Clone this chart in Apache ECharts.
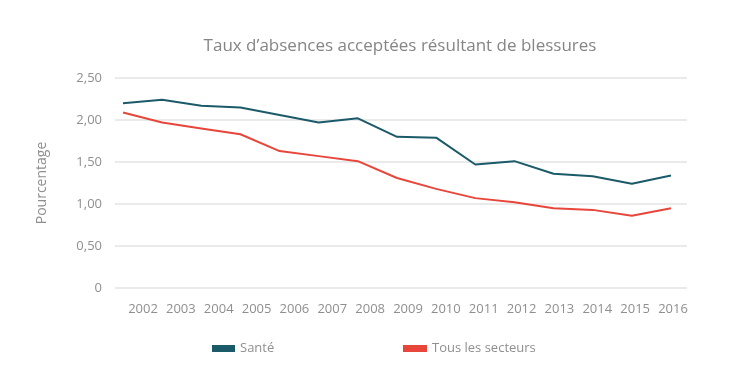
<!DOCTYPE html>
<html><head><meta charset="utf-8">
<script src="https://cdn.jsdelivr.net/npm/echarts@6/dist/echarts.min.js"></script>
<style>html,body{margin:0;padding:0;background:#fff}#c{width:735px;height:384px}</style>
</head><body><div id="c"></div>
<script>
const years = ['2002','2003','2004','2005','2006','2007','2008','2009','2010','2011','2012','2013','2014','2015','2016'];
const sante = [2.20,2.24,2.17,2.15,2.06,1.97,2.02,1.80,1.79,1.47,1.51,1.36,1.33,1.24,1.34];
const tous = [2.09,1.97,1.90,1.83,1.63,1.57,1.51,1.31,1.18,1.07,1.02,0.95,0.93,0.86,0.95];
const yTicks = [0,0.5,1,1.5,2,2.5];
const names = ['Santé','Tous les secteurs'];
const fam = '"Open Sans", "DejaVu Sans", sans-serif';
const chart = echarts.init(document.getElementById('c'));
const fmt = v => v === 0 ? '0' : v.toFixed(2).replace('.', ',');
chart.setOption({
  animation:false,
  title:{text:'Taux d\u2019absences acceptées résultant de blessures',left:400,textAlign:'center',top:38,padding:0,
    textStyle:{fontFamily:fam,fontSize:17,fontWeight:'normal',color:'#858585'}},
  grid:[
    {left:115,right:48,top:78,bottom:96},
    {left:123,right:64,top:78,bottom:96},
    {left:143,right:62,top:78,bottom:96}
  ],
  xAxis:[
    {gridIndex:0,type:'category',data:years,show:false},
    {gridIndex:1,type:'category',data:years,boundaryGap:false,show:false},
    {gridIndex:2,type:'category',data:years,boundaryGap:false,axisLine:{show:false},axisTick:{show:false},
      axisLabel:{margin:15,color:'#8f8f8f',fontSize:13,fontFamily:fam,interval:0}}
  ],
  yAxis:[
    {gridIndex:0,type:'value',min:yTicks[0],max:yTicks[yTicks.length-1],interval:0.5,
      name:'Pourcentage',nameLocation:'middle',nameGap:66,nameRotate:90,
      nameTextStyle:{color:'#8f8f8f',fontSize:14,fontFamily:fam},
      axisLine:{show:false},axisTick:{show:false},
      axisLabel:{formatter:fmt,color:'#8f8f8f',fontSize:13,fontFamily:fam,margin:13},
      splitLine:{lineStyle:{color:'#e3e3e3',width:1.5}}},
    {gridIndex:1,type:'value',min:0,max:2.5,show:false,splitLine:{show:false}},
    {gridIndex:2,type:'value',min:0,max:2.5,show:false,splitLine:{show:false}}
  ],
  legend:[
    {left:212,top:342,padding:0,icon:'rect',itemWidth:23,itemHeight:7,data:[names[0]],
      textStyle:{color:'#8f8f8f',fontSize:13,fontFamily:fam}},
    {left:403,top:342,padding:0,icon:'rect',itemWidth:24,itemHeight:7,data:[names[1]],
      textStyle:{color:'#8f8f8f',fontSize:13,fontFamily:fam}}
  ],
  series:[
    {name:names[0],type:'line',xAxisIndex:1,yAxisIndex:1,data:sante,symbol:'none',
      lineStyle:{color:'#1b5a69',width:2},itemStyle:{color:'#1b5a69'}},
    {name:names[1],type:'line',xAxisIndex:1,yAxisIndex:1,data:tous,symbol:'none',
      lineStyle:{color:'#e8463a',width:2},itemStyle:{color:'#e8463a'}}
  ]
});
</script></body></html>
